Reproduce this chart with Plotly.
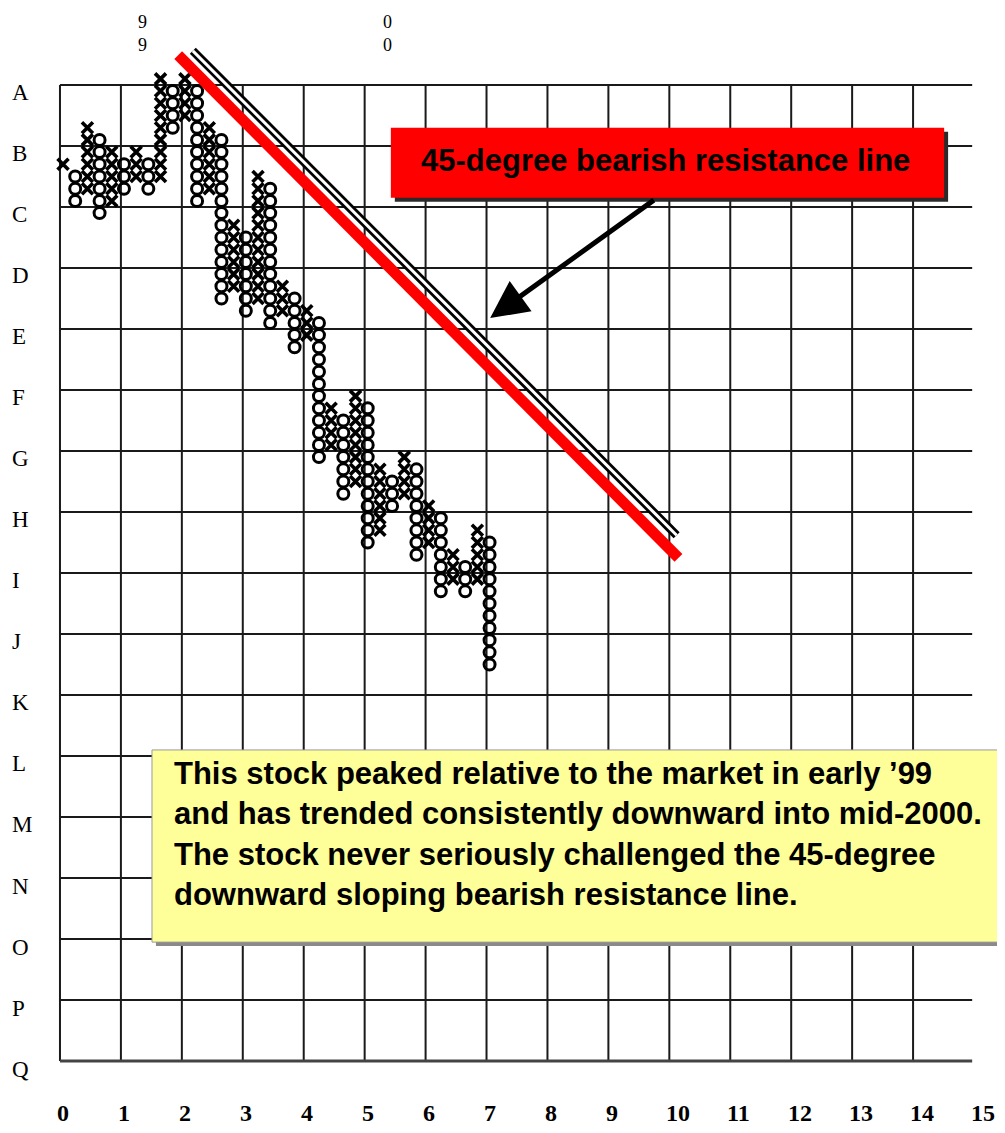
import plotly.graph_objects as go

# ---------------- data ----------------
# Point & figure columns (alternating X / O). Tops/bottoms are in grid-row units (A = 0, Q = 16).
col_types = ["X", "O", "X", "O", "X", "O", "X", "O", "X", "O", "X", "O",
             "X", "O", "X", "O", "X", "O", "X", "O", "X", "O", "X", "O",
             "X", "O", "X", "O", "X", "O", "X", "O", "X", "O", "X", "O"]
col_tops = [1.3, 1.5, 0.7, 0.9, 1.1, 1.3, 1.1, 1.3, -0.1, 0.1, -0.1, 0.1,
            0.7, 0.9, 2.3, 2.5, 1.5, 1.7, 3.3, 3.5, 3.7, 3.9, 5.3, 5.5,
            5.1, 5.3, 6.3, 6.5, 6.1, 6.3, 6.9, 7.1, 7.7, 7.9, 7.3, 7.5]
col_bottoms = [1.3, 1.9, 1.7, 2.1, 1.9, 1.7, 1.5, 1.7, 1.5, 0.7, 0.5, 1.9,
               1.7, 3.5, 3.3, 3.7, 3.5, 3.9, 3.7, 4.3, 4.1, 6.1, 5.9, 6.7,
               6.5, 7.5, 7.3, 6.9, 6.7, 7.7, 7.5, 8.3, 8.1, 8.3, 8.1, 9.5]

row_labels = ["A", "B", "C", "D", "E", "F", "G", "H", "I", "J", "K", "L", "M", "N", "O", "P", "Q"]
x_tick_vals = [0, 1, 2, 3, 4, 5, 6, 7, 8, 9, 10, 11, 12, 13, 14, 15]
x_tick_text = ["0", "1", "2", "3", "4", "5", "6", "7", "8", "9", "10", "11", "12", "13", "14", "15"]

year_digits = ["9", "0"]
year_x = [1.36, 5.38]

resistance_red = [(1.94, -0.49), (10.15, 7.75)]
resistance_black = [(2.18, -0.56), (10.12, 7.38)]

callout_title = "45-degree bearish resistance line"
callout_lines = [
    "This stock peaked relative to the market in early \u201999",
    "and has trended consistently downward into mid-2000.",
    "The stock never seriously challenged the 45-degree",
    "downward sloping bearish resistance line.",
]

# ---------------- style constants ----------------
BOX = 0.2          # box size (both directions, grid units)
X0 = 0.05          # centre of first column
SANS = "Liberation Sans, Arial, sans-serif"
SERIF = "Liberation Serif, Times New Roman, serif"

xs_x, ys_x, xs_o, ys_o = [], [], [], []
for k, (t, top, bot) in enumerate(zip(col_types, col_tops, col_bottoms)):
    n = int(round((bot - top) / BOX)) + 1
    cx = X0 + BOX * k
    for i in range(n):
        yy = round(top + BOX * i, 3)
        if t == "X":
            xs_x.append(cx); ys_x.append(yy)
        else:
            xs_o.append(cx); ys_o.append(yy)

fig = go.Figure()
fig.add_trace(go.Scatter(
    x=xs_o, y=ys_o, mode="markers", hoverinfo="skip",
    marker=dict(symbol="circle-open", size=11, color="black", line=dict(width=3, color="black")),
))
fig.add_trace(go.Scatter(
    x=xs_x, y=ys_x, mode="markers", hoverinfo="skip",
    marker=dict(symbol="x-thin-open", size=11, color="black", line=dict(width=3.6, color="black")),
))

shapes = []
n_rows = len(row_labels) - 1
grid_right = x_tick_vals[-1] - 0.03
# grid
for v in x_tick_vals[:-1]:
    shapes.append(dict(type="line", xref="x", yref="y", x0=v, x1=v, y0=0, y1=n_rows,
                       line=dict(color="#1a1a1a", width=2), layer="below"))
for r in range(n_rows + 1):
    shapes.append(dict(type="line", xref="x", yref="y", x0=0, x1=grid_right, y0=r, y1=r,
                       line=dict(color="#1a1a1a" if r < n_rows else "#444", width=2 if r < n_rows else 3),
                       layer="below"))

# resistance lines
(rx0, ry0), (rx1, ry1) = resistance_red
shapes.append(dict(type="line", xref="x", yref="y", x0=rx0, y0=ry0, x1=rx1, y1=ry1,
                   line=dict(color="#ff0000", width=11)))
(bx0, by0), (bx1, by1) = resistance_black
shapes.append(dict(type="line", xref="x", yref="y", x0=bx0, y0=by0, x1=bx1, y1=by1,
                   line=dict(color="black", width=8.5)))
shapes.append(dict(type="line", xref="x", yref="y", x0=bx0, y0=by0, x1=bx1, y1=by1,
                   line=dict(color="white", width=3)))

# red callout box with shadow
sh = 0.065
shapes.append(dict(type="rect", xref="x", yref="y", x0=5.43 + sh, x1=14.51 + sh, y0=0.70 + sh, y1=1.85 + sh,
                   fillcolor="#2a2a2a", line=dict(width=0)))
shapes.append(dict(type="rect", xref="x", yref="y", x0=5.43, x1=14.51, y0=0.70, y1=1.85,
                   fillcolor="#ff0000", line=dict(width=0)))

# yellow note box with shadow
shapes.append(dict(type="rect", xref="x", yref="y", x0=1.51 + sh, x1=16.5, y0=10.9 + sh, y1=14.05 + sh,
                   fillcolor="#8a8a8a", line=dict(width=0)))
shapes.append(dict(type="rect", xref="x", yref="y", x0=1.51, x1=16.5, y0=10.9, y1=14.05,
                   fillcolor="#ffff99", line=dict(color="#9a9a9a", width=1)))

annotations = []
# y tick letters
for r, lab in enumerate(row_labels):
    annotations.append(dict(x=-0.82, y=r + 0.13, xref="x", yref="y", text=lab, showarrow=False,
                            xanchor="left", yanchor="middle", font=dict(family=SERIF, size=23, color="black")))
# x tick numbers
for v, lab in zip(x_tick_vals, x_tick_text):
    annotations.append(dict(x=v - 0.08, y=16.85, xref="x", yref="y", text="<b>" + lab + "</b>", showarrow=False,
                            xanchor="left", yanchor="middle", font=dict(family=SERIF, size=24, color="black")))
# stacked year digits
for d, xv in zip(year_digits, year_x):
    annotations.append(dict(x=xv, y=-0.84, xref="x", yref="y", text=d + "<br>" + d, showarrow=False,
                            xanchor="center", yanchor="middle", borderpad=0,
                            font=dict(family=SERIF, size=18, color="black")))
# callout text
annotations.append(dict(x=9.93, y=1.23, xref="x", yref="y", text="<b>" + callout_title + "</b>", showarrow=False,
                        xanchor="center", yanchor="middle", font=dict(family=SANS, size=31, color="black")))
# arrow
annotations.append(dict(x=7.06, y=3.82, ax=9.77, ay=1.87, xref="x", yref="y", axref="x", ayref="y",
                        text="", showarrow=True, arrowhead=2, arrowsize=1.5, arrowwidth=5, arrowcolor="black"))
# note text
annotations.append(dict(x=1.84, y=12.28, xref="x", yref="y", text="<br>".join("<b>" + l + "</b>" for l in callout_lines),
                        showarrow=False, align="left", xanchor="left", yanchor="middle",
                        font=dict(family=SANS, size=31, color="black")))

fig.update_layout(
    width=1005, height=1133,
    margin=dict(l=0, r=0, t=0, b=0),
    paper_bgcolor="white", plot_bgcolor="white",
    showlegend=False,
    # page body adds an 8px offset; ranges compensate so the grid lands where the reference has it
    xaxis=dict(range=[-0.853, 15.64], visible=False, fixedrange=True),
    yaxis=dict(range=[17.31, -1.262], visible=False, fixedrange=True),
    shapes=shapes, annotations=annotations,
)

fig.write_html("out.html")
